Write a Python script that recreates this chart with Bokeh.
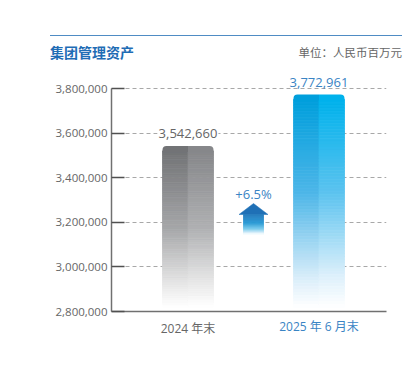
from bokeh.plotting import figure
from bokeh.layouts import column
from bokeh.models import FixedTicker, Range1d, Div, LinearAxis
from bokeh.core.properties import value
from bokeh.embed import file_html
from bokeh.resources import INLINE

# ---- data ----
categories = ["2024 年末", "2025 年 6 月末"]
values = [3542660, 3772961]
value_labels = ["3,542,660", "3,772,961"]
growth_label = "+6.5%"
y_ticks = [2800000, 3000000, 3200000, 3400000, 3600000, 3800000]
y_tick_labels = ["2,800,000", "3,000,000", "3,200,000", "3,400,000", "3,600,000", "3,800,000"]
title_text = "集团管理资产"
unit_text = "单位：人民币百万元"

NUM_FONT = "'Open Sans', 'Noto Sans CJK SC'"
GRAY_TXT = "#666666"
BLUE_TXT = "#3a84c4"
CAT_COLORS = [GRAY_TXT, BLUE_TXT]

W = 404
HDR_H = 70
FH = 281
FL, FR = 111, 386                # frame left / right (px)
FT, FB = 75 - HDR_H, 311 - HDR_H  # frame top / bottom (figure px)
AX_TOP = 88 - HDR_H               # pixel of top tick

y0, y1 = y_ticks[0], y_ticks[-1]
ppu_y = (FB - AX_TOP) / (y1 - y0)
y_end = y1 + (AX_TOP - FT) / ppu_y
ppu_x = 131.0
x_start = -(187.5 - FL) / ppu_x
x_end = x_start + (FR - FL) / ppu_x


def px_to_y(page_py):
    return y0 + (FB - (page_py - HDR_H)) / ppu_y


# ---- header ----
hdr_html = (
    '<div style="width:352px;margin-left:50px;margin-top:35px;border-top:1.5px solid #4f8cc4;'
    'display:flex;justify-content:space-between;align-items:center;height:33px;">'
    '<span style="font-family:\'Noto Sans CJK SC\';font-size:14px;font-weight:bold;color:#1f6db5;">'
    + title_text + '</span>'
    '<span style="font-family:\'Noto Sans CJK SC\';font-size:11.5px;color:#666666;">'
    + unit_text + '</span></div>'
)
hdr = Div(text=hdr_html, width=W, height=HDR_H, margin=(0, 0, 0, 0))

p = figure(width=W, height=FH, x_range=Range1d(x_start, x_end), y_range=Range1d(y0, y_end),
           output_backend="svg", toolbar_location=None, margin=(0, 0, 0, 0),
           min_border_left=FL, min_border_right=W - FR, min_border_top=FT,
           min_border_bottom=FH - FB)
p.outline_line_color = None
p.xgrid.visible = False
p.ygrid.ticker = FixedTicker(ticks=y_ticks[1:])
p.ygrid.grid_line_color = "#a8a8a8"
p.ygrid.grid_line_dash = "4 3"
p.ygrid.grid_line_width = 1

p.yaxis.ticker = FixedTicker(ticks=y_ticks)
p.yaxis.major_label_overrides = {t: l for t, l in zip(y_ticks, y_tick_labels)}
p.yaxis.bounds = (y0, y1)
p.yaxis.axis_line_color = "#707070"
p.yaxis.axis_line_width = 1.5
p.yaxis.major_tick_in = 13
p.yaxis.major_tick_out = 0
p.yaxis.major_tick_line_color = "#505050"
p.yaxis.major_tick_line_width = 1.5
p.yaxis.minor_tick_line_color = None
p.yaxis.major_label_text_font = NUM_FONT
p.yaxis.major_label_text_font_size = "11.5px"
p.yaxis.major_label_text_color = GRAY_TXT
p.yaxis.major_label_standoff = 4

# x axis: first category label (gray) on the main axis, second (blue) on an overlaid axis
xa = p.xaxis[0]
xa.ticker = FixedTicker(ticks=[0])
xa.major_label_overrides = {0: categories[0]}
xa.axis_line_color = "#707070"
xa.axis_line_width = 1.5
xa.major_tick_line_color = None
xa.minor_tick_line_color = None
xa.major_label_text_font = NUM_FONT
xa.major_label_text_font_size = "12px"
xa.major_label_text_color = CAT_COLORS[0]
xa.major_label_standoff = 2

xa2 = LinearAxis(ticker=FixedTicker(ticks=[1]), major_label_overrides={1: categories[1]},
                 axis_line_color=None, major_tick_line_color=None, minor_tick_line_color=None,
                 major_label_text_font=NUM_FONT, major_label_text_font_size="12px",
                 major_label_text_color=CAT_COLORS[1], major_label_standoff=-28)
p.add_layout(xa2, "below")


def hex2rgb(h):
    h = h.lstrip("#")
    return [int(h[i:i + 2], 16) for i in (0, 2, 4)]


def interp(stops, t):
    for (p0, c0), (p1, c1) in zip(stops, stops[1:]):
        if p0 <= t <= p1:
            f = 0 if p1 == p0 else (t - p0) / (p1 - p0)
            a, b = hex2rgb(c0), hex2rgb(c1)
            return "#%02x%02x%02x" % tuple(round(a[i] + (b[i] - a[i]) * f) for i in range(3))
    return stops[-1][1]


bar_w = 51 / ppu_x
gradients = [
    ([(0, "#727376"), (0.5, "#a6a7a9"), (0.85, "#e6e6e6"), (1, "#ffffff")],
     [(0, "#86878a"), (0.5, "#b0b1b3"), (0.85, "#e9e9e9"), (1, "#ffffff")]),
    ([(0, "#009fdc"), (0.45, "#4db6e8"), (0.85, "#d6ecf9"), (1, "#ffffff")],
     [(0, "#00b2ec"), (0.45, "#5cc3ef"), (0.85, "#ddf0fb"), (1, "#ffffff")]),
]
N = 70
bottom_val = y0 + 4 / ppu_y
cap = 5 / ppu_y
for i, v in enumerate(values):
    left_stops, right_stops = gradients[i]
    xs, tops, bots, cols = [], [], [], []
    for half, stops in ((0, left_stops), (1, right_stops)):
        cx = i - bar_w / 4 if half == 0 else i + bar_w / 4
        body_top = v - cap
        for k in range(N):
            t0 = k / N
            t1 = (k + 1) / N
            xs.append(cx)
            tops.append(body_top - (body_top - bottom_val) * t0)
            bots.append(body_top - (body_top - bottom_val) * t1)
            cols.append(interp(stops, (t0 + t1) / 2))
    p.vbar(x=xs, top=tops, bottom=bots, width=bar_w / 2, fill_color=cols, line_color=cols,
           line_width=0.8)
    p.vbar(x=[i - bar_w / 4], top=[v], bottom=[v - cap - 1 / ppu_y], width=bar_w / 2,
           fill_color=left_stops[0][1], line_color=None, border_radius=[4, 0, 0, 0])
    p.vbar(x=[i + bar_w / 4], top=[v], bottom=[v - cap - 1 / ppu_y], width=bar_w / 2,
           fill_color=right_stops[0][1], line_color=None, border_radius=[0, 4, 0, 0])

# value labels
p.text(x=list(range(len(values))), y=[v + 12 / ppu_y for v in values], text=value_labels,
       text_font=value(NUM_FONT), text_font_size="13px", text_color=CAT_COLORS,
       text_align="center", text_baseline="middle", background_fill_color="white",
       padding=1)

# growth arrow
ax = 0.5
head_top = px_to_y(203)
head_base = px_to_y(214)
shaft_bot = px_to_y(234)
head_hw = 14.5 / ppu_x
shaft_hw = 10 / ppu_x
p.patch(x=[ax - head_hw, ax, ax + head_hw], y=[head_base, head_top, head_base],
        fill_color="#1f70b6", line_color="#1f70b6", line_width=0.5)
arrow_stops = [(0, "#2379bd"), (0.45, "#2a9bd6"), (0.75, "#7fcdee"), (1, "#ffffff")]
M = 24
sx, st, sb, sc = [], [], [], []
for k in range(M):
    t0, t1 = k / M, (k + 1) / M
    sx.append(ax)
    st.append(head_base - (head_base - shaft_bot) * t0)
    sb.append(head_base - (head_base - shaft_bot) * t1)
    sc.append(interp(arrow_stops, (t0 + t1) / 2))
p.vbar(x=sx, top=st, bottom=sb, width=2 * shaft_hw, fill_color=sc, line_color=sc, line_width=0.6)
p.text(x=[ax], y=[px_to_y(193)], text=[growth_label],
       text_font=value(NUM_FONT), text_font_size="13px", text_color=BLUE_TXT,
       text_align="center", text_baseline="middle")

layout = column(hdr, p, spacing=0)
open("out.html", "w").write(file_html(layout, INLINE))
